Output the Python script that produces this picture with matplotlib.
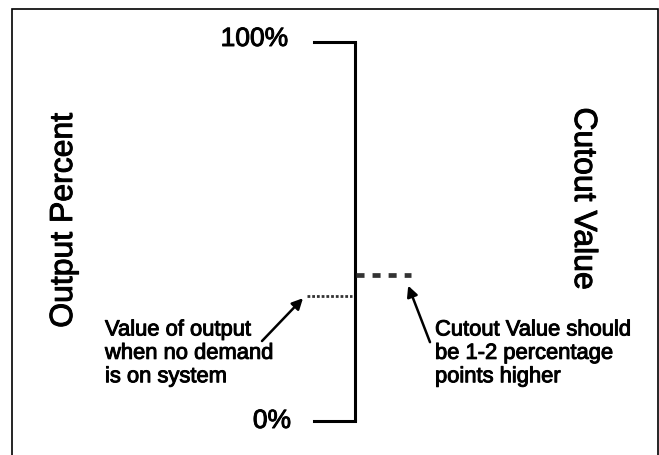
import matplotlib.pyplot as plt
import matplotlib.patheffects as pe
from matplotlib.patches import Rectangle

plt.rcParams['font.family'] = ['Liberation Sans', 'DejaVu Sans']

# scale ends and their labels
scale_levels = [0, 100]
scale_labels = ['0%', '100%']

# output level with no demand, and the cutout setting
output_value = 33
cutout_value = 38.5

# axis titles and notes
left_title = 'Output Percent'
right_title = 'Cutout Value'
output_note = 'Value of output\nwhen no demand\nis on system'
cutout_note = 'Cutout Value should\nbe 1-2 percentage\npoints higher'

# slightly heavier text, closer to a medium weight
heavy = [pe.withStroke(linewidth=0.7, foreground='black')]

fig = plt.figure(figsize=(6.59, 4.56), dpi=100)
ax = fig.add_axes([0, 0, 1, 1])
ax.set_xlim(-8.875, 7.6)
ax.set_ylim(-8.97, 111.35)
ax.axis('off')

# frame round the picture
fig.patches.append(Rectangle((12 / 659, -0.01), 646 / 659, 446 / 456 + 0.01,
                             transform=fig.transFigure, fill=False,
                             edgecolor='black', linewidth=1.2))

# the bracket scale
ax.plot([0, 0], [scale_levels[0], scale_levels[1]], color='black', lw=2.2,
        solid_capstyle='butt')
for lev, lab in zip(scale_levels, scale_labels):
    ax.plot([-1.02, 0], [lev, lev], color='black', lw=2.2, solid_capstyle='projecting')
    ax.text(-1.6 if lev == 0 else -1.675, lev + (0 if lev == 0 else 0.8), lab,
            ha='right', va='center', fontsize=19, path_effects=heavy)

# output level (dotted) and cutout level (dashed)
ax.plot([-1.2, -0.07], [output_value, output_value], color='#333333', lw=2.0,
        linestyle=(0, (1, 0.7)), dash_capstyle='butt')
ax.plot([0.02, 1.4], [cutout_value, cutout_value], color='#333333', lw=3.4,
        linestyle=(0, (1.7, 1.7)), dash_capstyle='butt')

# side titles
ax.text(-7.275, 53, left_title, rotation=90, ha='center', va='center', fontsize=23,
        path_effects=heavy)
ax.text(5.7, 58.6, right_title, rotation=270, ha='center', va='center', fontsize=23,
        path_effects=heavy)

# notes with arrows
ax.text(-6.25, 26.8, output_note, ha='left', va='top', fontsize=15.8, linespacing=1.15,
        path_effects=heavy)
ax.text(2.0, 26.8, cutout_note, ha='left', va='top', fontsize=15.8, linespacing=1.15,
        path_effects=heavy)
ax.annotate('', xy=(-1.3, output_value - 0.6), xytext=(-2.325, 21.1),
            arrowprops=dict(arrowstyle='-|>', color='black', lw=1.8, mutation_scale=16,
                            shrinkA=0, shrinkB=0))
ax.annotate('', xy=(1.33, cutout_value - 2.8), xytext=(1.875, 20.8),
            arrowprops=dict(arrowstyle='-|>', color='black', lw=1.8, mutation_scale=16,
                            shrinkA=0, shrinkB=0))

fig.savefig('out.png', dpi=100)
